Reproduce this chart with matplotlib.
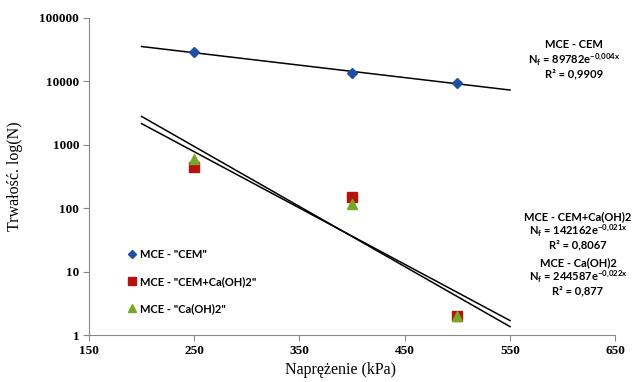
import numpy as np
import matplotlib
matplotlib.use('Agg')
import matplotlib.pyplot as plt

plt.rcParams['mathtext.default'] = 'regular'

# stress (kPa) and fatigue life
stress = [250, 400, 500]
n_cem = [29000, 13500, 9500]
n_cem_ca = [440, 150, 2]
n_ca = [590, 115, 2]

labels = ['MCE - "CEM"', 'MCE - "CEM+Ca(OH)2"', 'MCE - "Ca(OH)2"']
equations = [
    ('MCE - CEM', '89782', '-0{,}004x', '0,9909'),
    ('MCE - CEM+Ca(OH)2', '142162', '-0{,}021x', '0,8067'),
    ('MCE - Ca(OH)2', '244587', '-0{,}022x', '0,877'),
]
trend_range = (200, 550)

colors = ['#1F4FA0', '#B8120E', '#76A826']
markers = ['D', 's', '^']
msizes = [5, 6.5, 7]

fig = plt.figure(figsize=(6.35, 3.82), dpi=100)
ax = fig.add_axes([0.140, 0.123, 0.829, 0.830])

serif = 'Liberation Serif'
sans = 'Lato'

xs = np.linspace(trend_range[0], trend_range[1], 50)
for i, ys in enumerate([n_cem, n_cem_ca, n_ca]):
    ax.plot(stress, ys, linestyle='none', marker=markers[i], color=colors[i],
            markersize=msizes[i], label=labels[i], zorder=3)
    # exponential trend line fitted to the points
    b, a = np.polyfit(stress, np.log(ys), 1)
    ax.plot(xs, np.exp(a + b * xs), color='black', lw=1.1, zorder=2)

ax.set_yscale('log')
ax.set_ylim(1, 100000)
ax.set_xlim(150, 650)
ax.set_xticks([150, 250, 350, 450, 550, 650])
ax.set_yticks([1, 10, 100, 1000, 10000, 100000])
ax.set_yticklabels(['1', '10', '100', '1000', '10000', '100000'])
ax.yaxis.set_minor_locator(matplotlib.ticker.NullLocator())

for s in ['top', 'right']:
    ax.spines[s].set_visible(False)
for s in ['left', 'bottom']:
    ax.spines[s].set_color('#888888')
ax.tick_params(direction='out', length=4, color='#888888', width=0.8, pad=3)
for t in ax.get_xticklabels() + ax.get_yticklabels():
    t.set_fontfamily(serif)
    t.set_fontweight('bold')
    t.set_fontsize(9.5)

ax.set_xlabel('Naprężenie (kPa)', fontfamily=serif, fontsize=11.5)
ax.xaxis.set_label_coords(0.478, -0.085)
ax.set_ylabel('Trwałość. log(N)', fontfamily=serif, fontsize=11.5, labelpad=12)

ax.legend(loc='upper left', bbox_to_anchor=(0.051, 0.304), frameon=False,
          prop={'family': sans, 'weight': 'bold', 'size': 8},
          handletextpad=0.05, labelspacing=1.45, handlelength=1.2,
          markerscale=0.85)

# trend line equations, one text per line
ypos = [(45, 60, 74), (217, 231, 245), (263, 277, 291)]
xc = [574, 578, 578]
for (name, a, e, r2), ys, x in zip(equations, ypos, xc):
    lines = [name,
             r'N$_{f}$ = ' + a + r'e$^{' + e + '}$',
             'R² = ' + r2]
    for line, y in zip(lines, ys):
        fig.text(x / 635, 1 - y / 382, line, ha='center', va='center',
                 family=sans, weight='bold', fontsize=8)

fig.savefig('out.png', dpi=100)
